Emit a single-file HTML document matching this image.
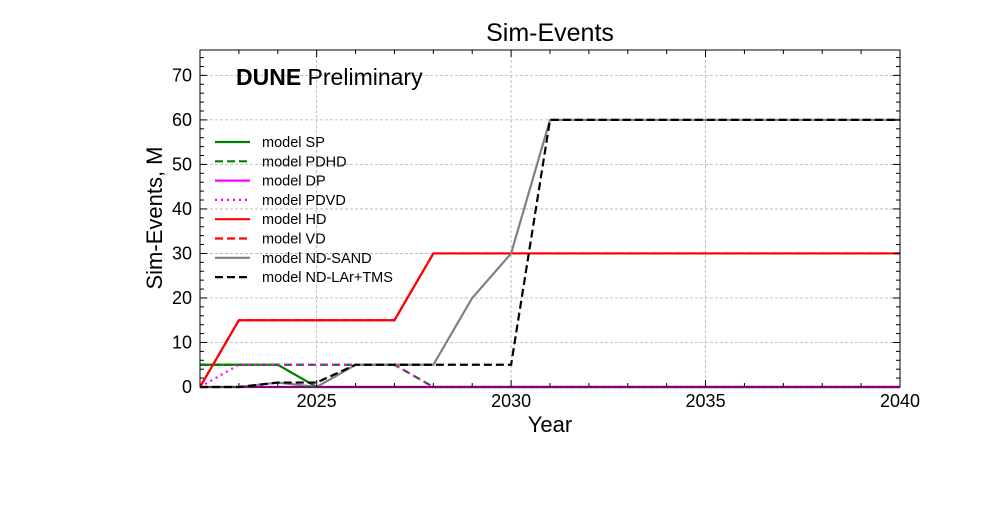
<!DOCTYPE html>
<html><head><meta charset="utf-8"><style>
body{margin:0;background:#fff;font-family:"Liberation Sans",sans-serif}
</style></head><body>
<svg id="c" width="1000" height="500" xmlns="http://www.w3.org/2000/svg" font-family="Liberation Sans, sans-serif"></svg>
<script>
const years=[2022,2023,2024,2025,2026,2027,2028,2029,2030,2031,2032,2033,2034,2035,2036,2037,2038,2039,2040];
const modelSP=[5,5,5,0,0,0,0,0,0,0,0,0,0,0,0,0,0,0,0];
const modelPDHD=[5,5,5,5,5,5,0,0,0,0,0,0,0,0,0,0,0,0,0];
const modelDP=[0,0,0,0,0,0,0,0,0,0,0,0,0,0,0,0,0,0,0];
const modelPDVD=[0,5,5,5,5,5,0,0,0,0,0,0,0,0,0,0,0,0,0];
const modelHD=[0,15,15,15,15,15,30,30,30,30,30,30,30,30,30,30,30,30,30];
const modelVD=[0,15,15,15,15,15,30,30,30,30,30,30,30,30,30,30,30,30,30];
const modelSAND=[0,0,1,0,5,5,5,20,30,60,60,60,60,60,60,60,60,60,60];
const modelLAr=[0,0,1,1,5,5,5,5,5,60,60,60,60,60,60,60,60,60,60];
const xTicks=[2025,2030,2035,2040];
const yTicks=[0,10,20,30,40,50,60,70];
const X0=200,X1=900,Y0=387,Y1=50,xmin=2022,xmax=2040,ymin=0,ymax=75.7;
const sx=v=>X0+(v-xmin)/(xmax-xmin)*(X1-X0);
const sy=v=>Y0-(v-ymin)/(ymax-ymin)*(Y0-Y1);
const svg=document.getElementById('c');
const NS='http://www.w3.org/2000/svg';
function mk(t,a,p){const e=document.createElementNS(NS,t);for(const k in a)e.setAttribute(k,a[k]);(p||svg).appendChild(e);return e;}
// grid
for(const t of xTicks){const l=mk('line',{x1:sx(t),x2:sx(t),y1:Y1,y2:Y0,stroke:'#b0b0b0','stroke-width':0.8,'stroke-dasharray':'3,2'});

}
for(const t of yTicks){const l=mk('line',{x1:X0,x2:X1,y1:sy(t),y2:sy(t),stroke:'#b0b0b0','stroke-width':0.8,'stroke-dasharray':'3,2'});

}
// series
const series=[
 ['model SP',modelSP,'#008000','none',2.2],
 ['model PDHD',modelPDHD,'#008000','8,4',2.2],
 ['model DP',modelDP,'#ff00ff','none',2.2],
 ['model PDVD',modelPDVD,'#ff00ff','2,4',2.2],
 ['model HD',modelHD,'#ff0000','none',2.2],
 ['model VD',modelVD,'#ff0000','8,4',2.2],
 ['model ND-SAND',modelSAND,'#808080','none',2.2],
 ['model ND-LAr+TMS',modelLAr,'#000000','8,4',2.2]];
const g=mk('g',{'clip-path':'url(#pc)'});
const cp=mk('clipPath',{id:'pc'});mk('rect',{x:X0,y:Y1-2,width:X1-X0,height:Y0-Y1+4},cp);
series.forEach((s,i)=>{
 const p=mk('polyline',{points:years.map((y,j)=>sx(y)+','+sy(s[1][j])).join(' '),fill:'none',stroke:s[2],'stroke-width':s[4],'stroke-dasharray':s[3]},g);
 
 
 const ly=142+i*19.3;
 const ll=mk('line',{x1:215,x2:250,y1:ly,y2:ly,stroke:s[2],'stroke-width':s[4],'stroke-dasharray':s[3]});
 
 
 const lt=mk('text',{x:262,y:ly+5,'font-size':14.5,fill:'#000'});lt.textContent=s[0];
 
 
});
// frame
const fr=mk('rect',{x:X0,y:Y1,width:X1-X0,height:Y0-Y1,fill:'none',stroke:'#000','stroke-width':1});


// ticks
for(let y=xmin;y<=xmax;y++){const major=xTicks.includes(y);const L=major?7:4;
 mk('line',{x1:sx(y),x2:sx(y),y1:Y0,y2:Y0-L,stroke:'#000'});mk('line',{x1:sx(y),x2:sx(y),y1:Y1,y2:Y1+L,stroke:'#000'});}
for(let v=0;v<=74;v+=2){const major=v%10==0;const L=major?7:4;
 mk('line',{x1:X0,x2:X0+L,y1:sy(v),y2:sy(v),stroke:'#000'});mk('line',{x1:X1,x2:X1-L,y1:sy(v),y2:sy(v),stroke:'#000'});}
for(const t of xTicks){const e=mk('text',{x:sx(t),y:Y0+20,'font-size':18,'text-anchor':'middle'});e.textContent=t;

}
for(const t of yTicks){const e=mk('text',{x:X0-8,y:sy(t)+6,'font-size':18,'text-anchor':'end'});e.textContent=t;

}
let e=mk('text',{x:550,y:432,'font-size':22,'text-anchor':'middle'});e.textContent='Year';


e=mk('text',{x:0,y:0,'font-size':22,'text-anchor':'middle',transform:'translate(162,218) rotate(-90)'});e.textContent='Sim-Events, M';


e=mk('text',{x:550,y:41,'font-size':25,'text-anchor':'middle'});e.textContent='Sim-Events';


e=mk('text',{x:236,y:85,'font-size':23});
const b=mk('tspan',{'font-weight':'bold'},e);b.textContent='DUNE';
const r=mk('tspan',{},e);r.textContent=' Preliminary';


</script>
</body></html>
